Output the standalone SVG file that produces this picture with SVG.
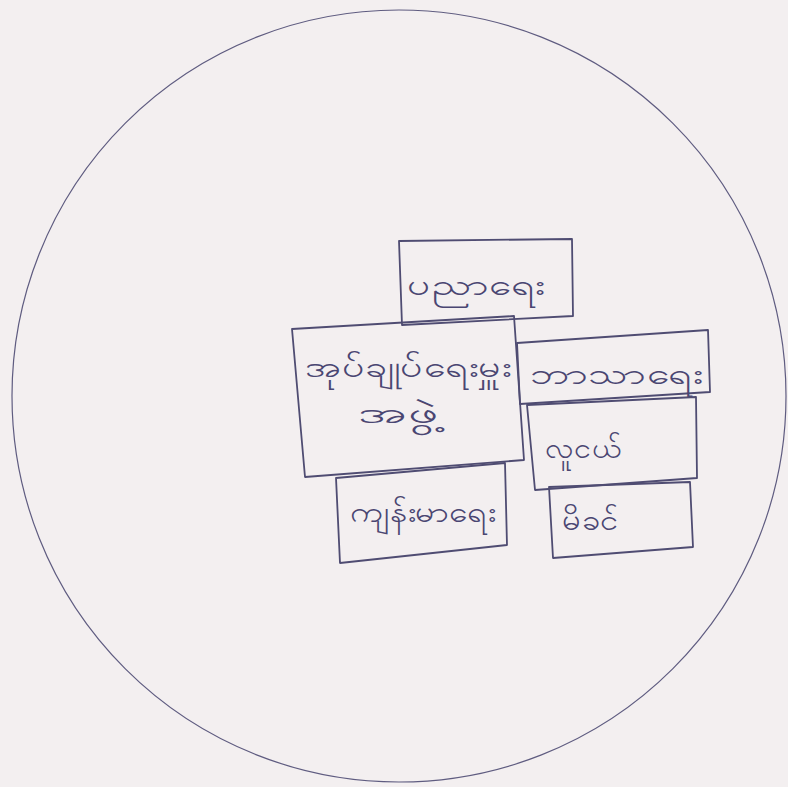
<svg xmlns="http://www.w3.org/2000/svg" width="788" height="787" viewBox="0 0 788 787">
<defs>
<style>
.bg{fill:#f3eff0}
.ln{fill:none;stroke:#4f4c72;stroke-width:1.8;stroke-linejoin:round;stroke-linecap:round}
.tx{font-family:"Noto Sans","DejaVu Sans",sans-serif;font-size:28px;fill:#4a4672}
</style>
</defs>
<rect class="bg" x="0" y="0" width="788" height="787"/>
<g id="circle">
<ellipse cx="399" cy="396" rx="387" ry="386" fill="none" stroke="#5f5c80" stroke-width="1.2"/>
</g>
<g id="node-education">
<polygon class="ln" points="399,241 572,239 573,316 402,325"/>
<text class="tx" x="407" y="295" textLength="137" lengthAdjust="spacingAndGlyphs">ပညာရေး</text>
</g>
<g id="node-administration">
<polygon class="ln" points="292,329 514,316 524,460 305,477"/>
<text class="tx" x="305" y="377" textLength="205" lengthAdjust="spacingAndGlyphs">အုပ်ချုပ်ရေးမှူး</text>
<text class="tx" x="358" y="423" textLength="82" lengthAdjust="spacingAndGlyphs">အဖွဲ့</text>
</g>
<g id="node-health">
<polygon class="ln" points="336,478 505,463 507,545 340,563"/>
<text class="tx" x="350" y="522" textLength="145" lengthAdjust="spacingAndGlyphs">ကျန်းမာရေး</text>
</g>
<g id="node-religion">
<polygon class="ln" points="517,343 708,330 710,392 520,404"/>
<text class="tx" x="530" y="384" textLength="172" lengthAdjust="spacingAndGlyphs">ဘာသာရေး</text>
</g>
<g id="node-youth">
<polygon class="ln" points="527,405 696,397 697,478 535,490"/>
<text class="tx" x="545" y="458" textLength="77" lengthAdjust="spacingAndGlyphs">လူငယ်</text>
</g>
<g id="node-mother">
<polygon class="ln" points="549,487 690,482 693,547 553,558"/>
<text class="tx" x="562" y="530" textLength="57" lengthAdjust="spacingAndGlyphs">မိခင်</text>
</g>
<g id="connectors"></g>
</svg>
